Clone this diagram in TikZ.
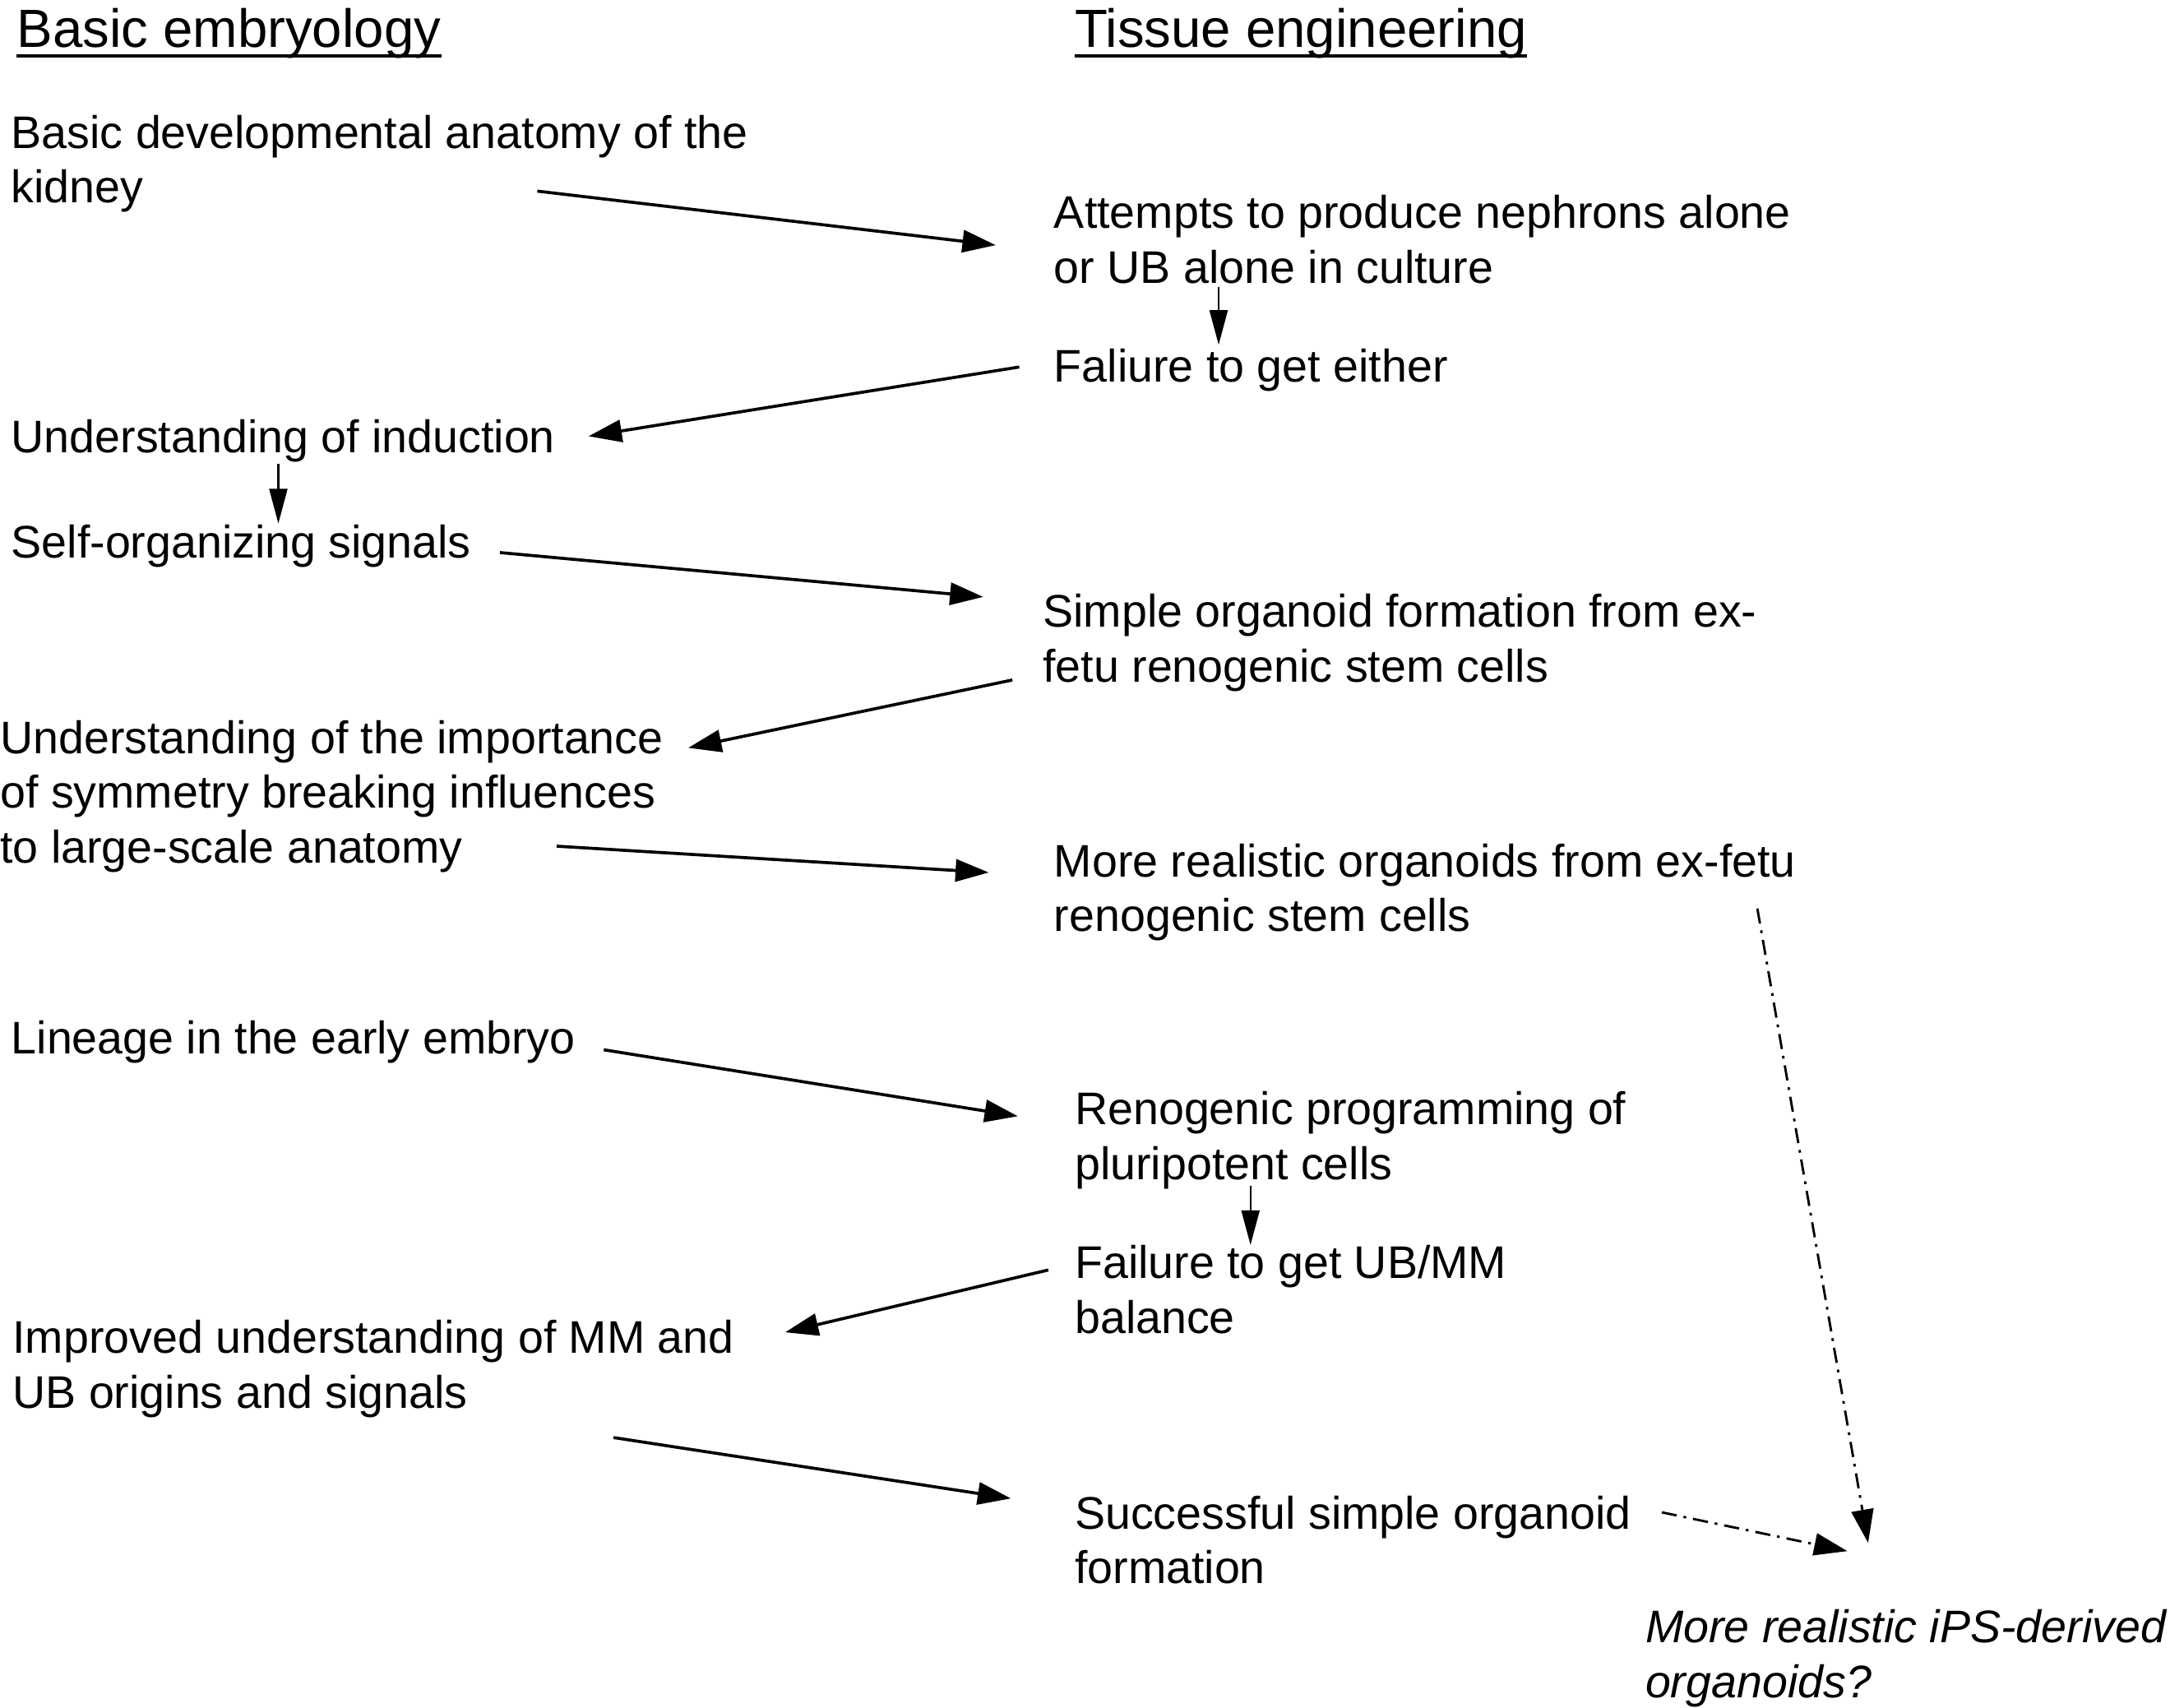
\documentclass[tikz,border=0pt]{standalone}
\usepackage{fontspec}
\setmainfont{Liberation Sans}
\usetikzlibrary{arrows.meta}
\begin{document}
\begin{tikzpicture}[x=1pt,y=-1pt,
  txt/.style={anchor=base west,inner sep=0pt,align=left,font=\fontsize{33}{39.6}\selectfont},
  hdr/.style={anchor=base west,inner sep=0pt,font=\fontsize{38.8}{46}\selectfont},
  arr/.style={line width=2.2pt,-{Triangle[length=24pt,width=16pt]}},
  varr/.style={line width=1.4pt,-{Triangle[length=25pt,width=13pt]}},
  dd/.style={line width=1.7pt,dash pattern=on 11pt off 5pt on 2pt off 5pt,-{Triangle[length=24pt,width=16pt]}}]
\useasboundingbox (0,0) rectangle (1567,1233);
% headers
\node[hdr] (h1) at (12,34) {Basic embryology};
\node[hdr] (h2) at (776,34) {Tissue engineering};
\draw[line width=2.6pt] ([yshift=-6.5pt]h1.base west) -- ([yshift=-6.5pt]h1.base east);
\draw[line width=2.6pt] ([yshift=-6.5pt]h2.base west) -- ([yshift=-6.5pt]h2.base east);
% texts (anchor = baseline of the last line)
\node[txt] (n1) at (8,146.6) {Basic developmental anatomy of the\\kidney};
\node[txt] (n2) at (761,204.6) {Attempts to produce nephrons alone\\or UB alone in culture};
\node[txt] (n3) at (761,276) {Faliure to get either};
\node[txt] (n4) at (8,327) {Understanding of induction};
\node[txt] (n5) at (8,403) {Self-organizing signals};
\node[txt] (n6) at (753,492.6) {Simple organoid formation from ex-\\fetu renogenic stem cells};
\node[txt] (n7) at (0,623.2) {Understanding of the importance\\of symmetry breaking influences\\to large-scale anatomy};
\node[txt] (n8) at (761,672.6) {More realistic organoids from ex-fetu\\renogenic stem cells};
\node[txt] (n9) at (8,761) {Lineage in the early embryo};
\node[txt] (n10) at (776,851.6) {Renogenic programming of\\pluripotent cells};
\node[txt] (n11) at (776,962.6) {Failure to get UB/MM\\balance};
\node[txt] (n12) at (9,1016.6) {Improved understanding of MM and\\UB origins and signals};
\node[txt] (n13) at (776,1143.6) {Successful simple organoid\\formation};
\node[txt,font=\fontsize{33}{39.6}\selectfont\itshape] (n14) at (1188,1225.6) {More realistic iPS-derived\\organoids?};
% connector end points
\coordinate (a1s) at (388,138);  \coordinate (a1e) at (719,177);
\coordinate (a2s) at (880,207);  \coordinate (a2e) at (880,249);
\coordinate (a3s) at (736,265);  \coordinate (a3e) at (425,315);
\coordinate (a4s) at (201,335);  \coordinate (a4e) at (201,378);
\coordinate (a5s) at (361,399);  \coordinate (a5e) at (710,431);
\coordinate (a6s) at (731,491);  \coordinate (a6e) at (497,540);
\coordinate (a7s) at (402,611);  \coordinate (a7e) at (714,630);
\coordinate (a8s) at (436,758);  \coordinate (a8e) at (735,806);
\coordinate (a9s) at (903,856);  \coordinate (a9e) at (903,899);
\coordinate (a10s) at (757,917); \coordinate (a10e) at (567,962);
\coordinate (a11s) at (443,1038); \coordinate (a11e) at (730,1082);
\coordinate (a12s) at (1269,656); \coordinate (a12e) at (1349,1114);
\coordinate (a13s) at (1200,1092); \coordinate (a13e) at (1334,1120);
% connectors
\draw[arr] (a1s) -- (a1e);
\draw[varr] (a2s) -- (a2e);
\draw[arr] (a3s) -- (a3e);
\draw[varr] (a4s) -- (a4e);
\draw[arr] (a5s) -- (a5e);
\draw[arr] (a6s) -- (a6e);
\draw[arr] (a7s) -- (a7e);
\draw[arr] (a8s) -- (a8e);
\draw[varr] (a9s) -- (a9e);
\draw[arr] (a10s) -- (a10e);
\draw[arr] (a11s) -- (a11e);
\draw[dd] (a12s) -- (a12e);
\draw[dd] (a13s) -- (a13e);
\end{tikzpicture}
\end{document}
